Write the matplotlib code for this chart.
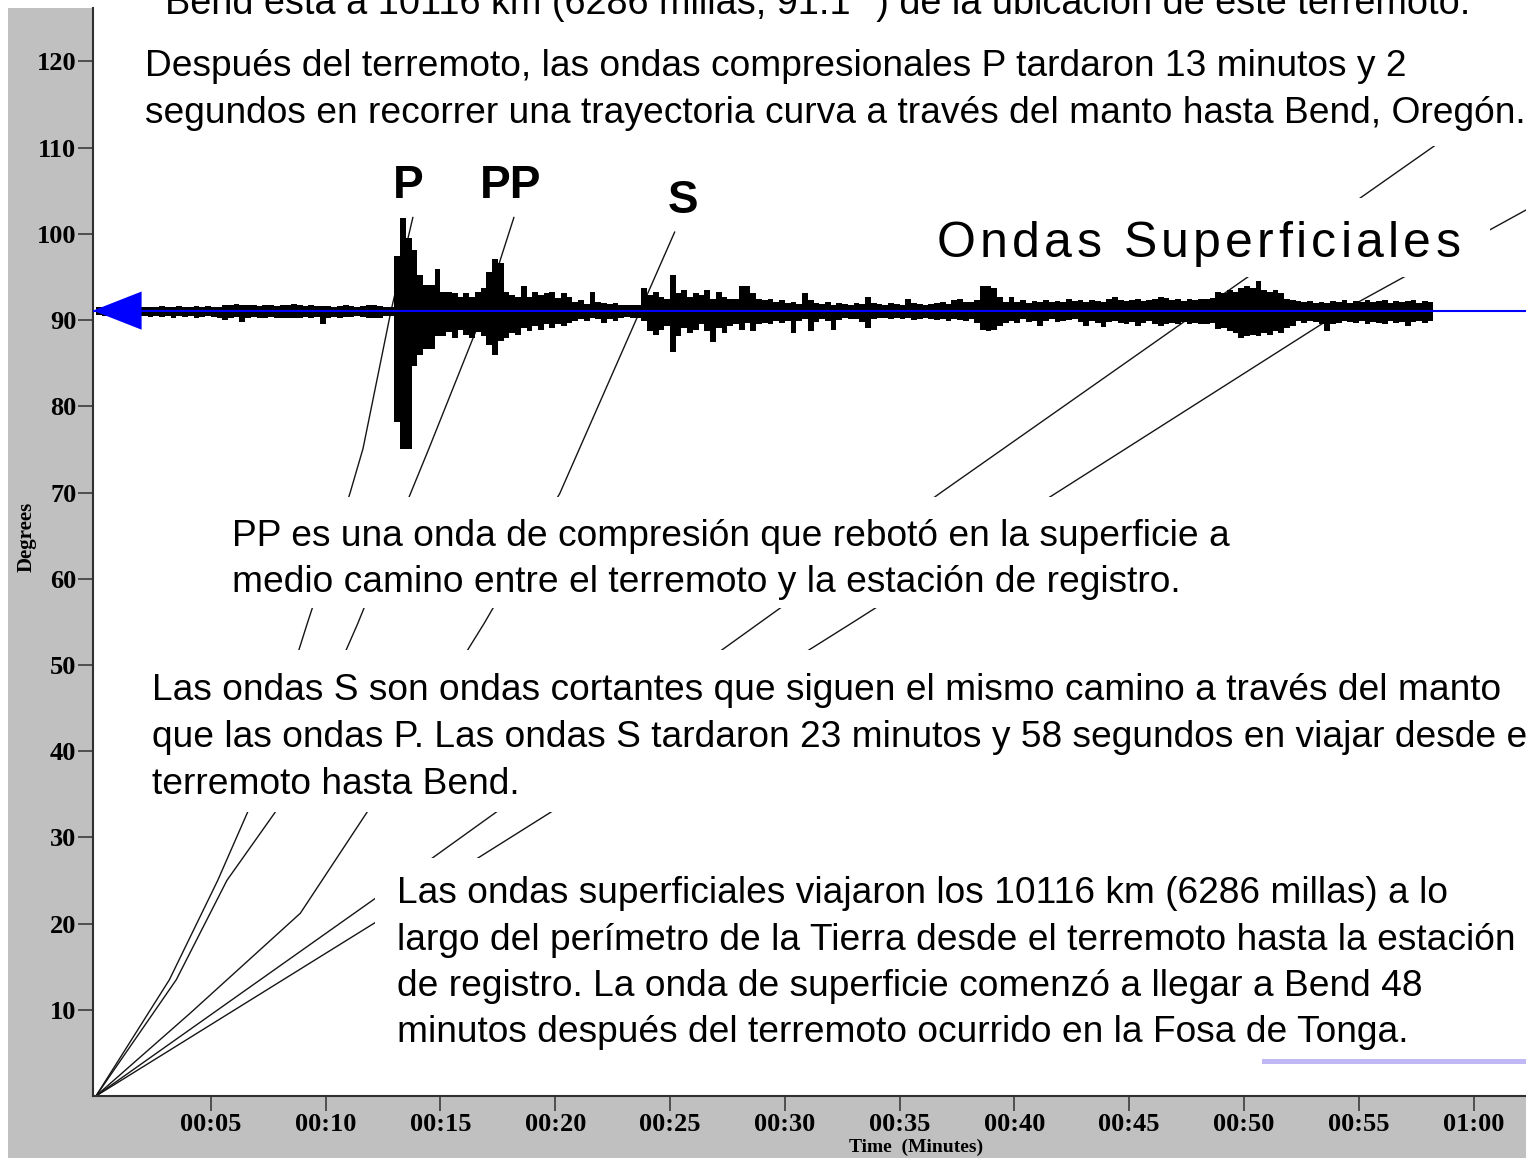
import matplotlib
matplotlib.use("Agg")
import matplotlib.pyplot as plt
import numpy as np
from matplotlib.patches import Rectangle
from matplotlib.lines import Line2D
from matplotlib.ft2font import FT2Font
from matplotlib.font_manager import findfont, FontProperties

# ---------------- data ----------------
distance_deg = 91.1            # epicentral distance of Bend
trace_step_min = 0.25          # sampling of the read-off envelope
trace_upper = [  # deg above the trace baseline, every 0.25 min from 0
    0.4, 0.45, 0.4, 0.5, 0.4, 0.45, 0.5, 0.4,
    0.45, 0.4, 0.45, 0.5, 0.4, 0.45, 0.5, 0.4,
    0.45, 0.5, 0.45, 0.5, 0.4, 0.45, 0.6, 0.7,
    0.8, 0.6, 0.7, 0.6, 0.5, 0.7, 0.6, 0.5,
    0.7, 0.6, 0.8, 0.7, 0.5, 0.6, 0.5, 0.5,
    0.5, 0.4, 0.5, 0.6, 0.5, 0.4, 0.5, 0.6,
    0.7, 0.5, 0.4, 0.4, 6.3, 10.7, 8.4, 7.0,
    4.1, 3.0, 3.0, 4.8, 2.2, 2.2, 2.0, 1.6,
    2.0, 1.6, 2.2, 2.6, 4.5, 6.0, 5.5, 2.2,
    1.8, 1.6, 2.8, 1.6, 2.2, 1.8, 2.0, 2.2,
    1.5, 2.0, 1.6, 1.0, 1.2, 0.8, 2.2, 1.0,
    0.9, 0.8, 0.9, 0.7, 0.6, 0.7, 0.6, 2.6,
    1.8, 2.2, 1.6, 1.4, 4.1, 2.0, 2.4, 1.6,
    2.0, 1.8, 2.4, 1.4, 2.2, 1.6, 1.4, 1.4,
    2.8, 2.8, 2.0, 1.4, 1.2, 1.4, 1.0, 1.2,
    0.9, 1.0, 0.8, 2.0, 1.2, 0.9, 0.8, 1.0,
    0.7, 0.9, 0.8, 0.7, 0.9, 0.8, 1.6, 0.9,
    0.8, 0.7, 0.9, 0.8, 0.7, 1.4, 0.9, 0.8,
    0.7, 0.8, 0.9, 1.0, 0.8, 1.2, 1.3, 1.0,
    1.0, 1.2, 2.8, 2.8, 2.6, 1.6, 1.0, 1.6,
    1.0, 1.2, 0.9, 1.1, 1.0, 1.2, 1.0, 1.1,
    1.0, 1.3, 1.1, 1.2, 1.0, 1.2, 1.1, 1.0,
    1.3, 1.6, 1.2, 1.1, 1.2, 1.3, 1.1, 1.2,
    1.3, 1.6, 1.5, 1.2, 1.3, 1.1, 1.4, 1.2,
    1.4, 1.3, 1.5, 2.2, 2.0, 2.4, 2.2, 2.6,
    2.8, 2.6, 3.4, 2.4, 2.2, 2.4, 2.0, 1.4,
    1.2, 1.1, 1.0, 1.1, 0.9, 1.0, 0.9, 1.1,
    1.0, 1.2, 0.9, 1.1, 1.0, 1.2, 1.0, 1.1,
    1.2, 0.9, 1.1, 1.0, 1.1, 1.2, 0.9, 1.1,
    1.0,
]
trace_lower = [  # deg below the trace baseline
    0.5, 0.6, 0.5, 0.6, 0.7, 0.5, 0.6, 0.6,
    0.6, 0.7, 0.6, 0.7, 0.6, 0.8, 0.6, 0.7,
    0.6, 0.8, 0.7, 0.6, 0.7, 0.8, 1.1, 0.8,
    0.7, 1.3, 0.8, 0.7, 0.9, 0.8, 0.7, 0.8,
    0.9, 0.8, 0.9, 0.9, 0.7, 0.8, 0.7, 1.5,
    0.8, 0.7, 0.8, 0.7, 0.7, 0.6, 0.7, 0.8,
    0.9, 0.8, 0.6, 0.6, 12.9, 16.0, 16.0, 6.4,
    5.2, 4.4, 4.4, 2.9, 3.0, 2.5, 3.2, 2.2,
    2.8, 3.2, 2.5, 3.0, 4.0, 5.2, 3.5, 3.2,
    2.6, 2.8, 2.0, 2.4, 1.8, 2.2, 1.6, 2.0,
    1.6, 1.8, 1.4, 1.2, 1.0, 1.2, 0.9, 1.0,
    1.4, 1.0, 1.2, 0.8, 0.7, 0.8, 0.9, 1.2,
    2.4, 2.8, 2.2, 1.8, 4.8, 3.0, 2.0, 2.6,
    2.2, 1.6, 2.4, 3.6, 2.0, 2.6, 1.8, 1.6,
    2.2, 1.4, 2.4, 1.6, 1.4, 1.6, 1.2, 1.4,
    1.2, 2.6, 1.2, 1.0, 2.4, 1.3, 1.0, 1.2,
    2.2, 1.1, 0.9, 1.0, 1.0, 1.3, 2.0, 1.0,
    0.9, 0.8, 1.0, 0.9, 1.0, 0.9, 1.1, 1.0,
    0.9, 1.0, 1.1, 1.0, 1.2, 1.0, 1.1, 1.2,
    1.0, 1.4, 2.2, 2.4, 2.2, 1.8, 1.4, 1.2,
    1.4, 1.0, 1.3, 1.2, 1.8, 1.2, 1.0, 1.3,
    1.2, 1.1, 1.0, 1.3, 1.8, 1.2, 1.4, 1.9,
    1.3, 1.2, 1.4, 1.6, 1.3, 1.8, 1.4, 1.2,
    1.5, 1.8, 1.6, 1.4, 1.5, 1.3, 1.6, 1.4,
    1.5, 1.6, 1.4, 2.1, 2.0, 2.4, 2.6, 3.2,
    3.0, 2.8, 3.0, 2.6, 2.8, 2.4, 2.6, 2.0,
    1.8, 1.2, 1.4, 1.2, 1.3, 1.5, 2.4, 1.6,
    1.4, 1.2, 1.3, 1.4, 1.2, 1.5, 1.3, 1.4,
    1.5, 1.2, 1.4, 1.3, 1.8, 1.3, 1.2, 1.4,
    1.2,
]

# travel-time curves (distance in degrees, time in minutes)
p_deg = [0, 13.5, 25, 32.9, 54.8, 69.9, 75.1, 91.1, 101.9]
p_min = [0, 3.2, 5.3, 6.6, 9.2, 11.06, 11.63, 12.85, 13.8]
pp_deg = [0, 13.5, 25, 32.9, 54.8, 69.9, 75.1, 91.1, 101.9]
pp_min = [0, 3.5, 5.7, 7.8, 11.4, 13.7, 14.5, 16.9, 18.2]
s_deg = [0, 9.6, 21.2, 32.9, 54.8, 69.9, 91.1, 100.2]
s_min = [0, 4.1, 8.9, 11.8, 16.9, 20.2, 23.7, 25.2]
love_deg = [0, 27.7, 70, 110.6]
love_min = [0, 14.7, 36.8, 58.5]
rayleigh_deg = [0, 20.1, 55, 91.1, 102.8]
rayleigh_min = [0, 12.15, 33.0, 54.3, 62.3]

x_ticks = [5, 10, 15, 20, 25, 30, 35, 40, 45, 50, 55, 60]
x_tick_labels = ["00:05", "00:10", "00:15", "00:20", "00:25", "00:30",
                 "00:35", "00:40", "00:45", "00:50", "00:55", "01:00"]
y_ticks = [10, 20, 30, 40, 50, 60, 70, 80, 90, 100, 110, 120]

# ---------------- figure ----------------
W, H = 1526, 1158
fig = plt.figure(figsize=(W / 100, H / 100), dpi=100, facecolor="white")

def fx(px):
    return px / W

def fy(py):
    return 1 - py / H

GRAY = "#c0c0c0"
fig.add_artist(Rectangle((fx(8), 0), 1, fy(8), transform=fig.transFigure,
                         facecolor=GRAY, edgecolor="none", zorder=-5))

ax = fig.add_axes([fx(93), fy(1096), (1560 - 93) / W, (1096 - 8) / H])
ax.set_facecolor("white")
ax.set_xlim(-0.13, 63.76)
ax.set_ylim(0, 126.2)
for s in ("top", "right"):
    ax.spines[s].set_visible(False)
for s in ("left", "bottom"):
    ax.spines[s].set_color("#303030")
    ax.spines[s].set_linewidth(1.5)

serif = dict(family="Liberation Serif", weight="bold")
ax.set_xticks(x_ticks)
ax.set_xticklabels(x_tick_labels, fontsize=19, **serif)
ax.set_yticks(y_ticks)
ax.set_yticklabels([str(v) for v in y_ticks], fontsize=19, **serif)
ax.tick_params(direction="out", length=11, width=1.1, color="#303030", pad=1)

# travel-time curves
for xs, ys in ((p_min, p_deg), (pp_min, pp_deg), (s_min, s_deg),
               (love_min, love_deg), (rayleigh_min, rayleigh_deg)):
    ax.plot(xs, ys, color="#151515", lw=1.0, zorder=2)

# seismogram envelope
up = np.array(trace_upper)
lo = np.array(trace_lower)
tt = np.arange(len(up) + 1) * trace_step_min
up = np.append(up, up[-1])
lo = np.append(lo, lo[-1])
ax.fill_between(tt, distance_deg + up, distance_deg - lo, step="post",
                color="black", lw=0, zorder=3)

# blue distance line with arrow head at the axis
ax.axhline(distance_deg, color="#0000ff", lw=1.5, zorder=4)
ax.annotate("", xy=(ax.get_xlim()[0], distance_deg), xytext=(3.0, distance_deg),
            arrowprops=dict(arrowstyle="-|>,head_length=1.4,head_width=0.55",
                            mutation_scale=25, color="#0000ff", lw=0,
                            shrinkA=0, shrinkB=0), zorder=5)

# ---------------- white masks behind the texts ----------------
masks = [(96, 0, 1526, 146), (925, 198, 1490, 277), (215, 497, 1245, 608),
         (140, 650, 1526, 812), (375, 858, 1526, 1052)]
for x0, y0, x1, y1 in masks:
    fig.add_artist(Rectangle((fx(x0), fy(y1)), fx(x1) - fx(x0), fy(y0) - fy(y1),
                             transform=fig.transFigure, facecolor="white",
                             edgecolor="none", zorder=5))

# purple rule
fig.add_artist(Line2D([fx(1264), fx(1526)], [fy(1061), fy(1061)],
                      transform=fig.transFigure, color="#bfb8f5", lw=3.6, zorder=6))

# ---------------- texts ----------------
SANS = "Liberation Sans"
BODY = 26.75

def body(x, y, s, size=BODY):
    fig.text(fx(x), fy(y), s, fontsize=size, family=SANS, ha="left",
             va="baseline", zorder=10)

body(165, 14, "Bend está a 10116 km (6286 millas, 91.1 °) de la ubicación de este terremoto.", 27.3)
body(145, 76, "Después del terremoto, las ondas compresionales P tardaron 13 minutos y 2")
body(145, 123, "segundos en recorrer una trayectoria curva a través del manto hasta Bend, Oregón.")
body(232, 546, "PP es una onda de compresión que rebotó en la superficie a")
body(232, 592, "medio camino entre el terremoto y la estación de registro.")
body(152, 700, "Las ondas S son ondas cortantes que siguen el mismo camino a través del manto")
body(152, 747, "que las ondas P. Las ondas S tardaron 23 minutos y 58 segundos en viajar desde el")
body(152, 794, "terremoto hasta Bend.")
body(397, 903, "Las ondas superficiales viajaron los 10116 km (6286 millas) a lo")
body(397, 950, "largo del perímetro de la Tierra desde el terremoto hasta la estación")
body(397, 996, "de registro. La onda de superficie comenzó a llegar a Bend 48")
body(397, 1042, "minutos después del terremoto ocurrido en la Fosa de Tonga.")

for x, y, s in ((393, 198, "P"), (480, 198, "PP"), (668, 213, "S")):
    fig.text(fx(x), fy(y), s, fontsize=33, family=SANS, weight="bold",
             ha="left", va="baseline", zorder=10)

# letter-spaced "Ondas Superficiales"
label = "Ondas Superficiales"
size_pt = 36
font = FT2Font(findfont(FontProperties(family=SANS)))
font.set_size(size_pt, 100)
xpos = 937.0
tracking = 4.2
for ch in label:
    fig.text(fx(xpos), fy(257), ch, fontsize=size_pt, family=SANS,
             ha="left", va="baseline", zorder=10)
    g = font.load_char(ord(ch))
    xpos += g.linearHoriAdvance / 65536.0 + tracking

fig.text(fx(916), fy(1147), "Time  (Minutes)", fontsize=14, ha="center",
         va="center", zorder=10, **serif)
fig.text(fx(27), fy(537), "Degrees", fontsize=15, rotation=90, ha="center",
         va="center", zorder=10, **serif)

fig.savefig("out.png", dpi=100, facecolor="white")
